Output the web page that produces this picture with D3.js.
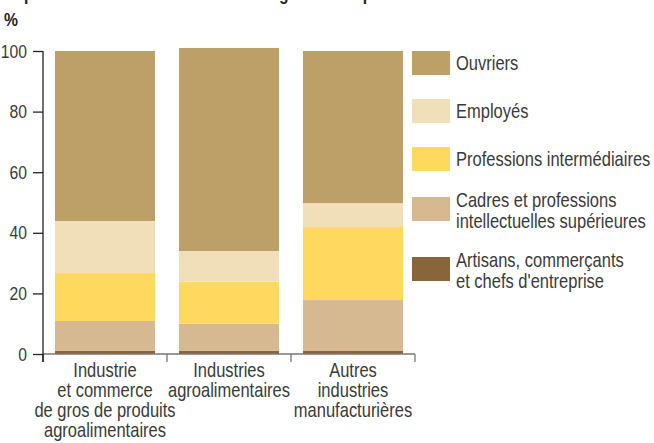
<!DOCTYPE html>
<meta charset="utf-8">
<body style="margin:0;background:#fff">
<script src="https://cdn.jsdelivr.net/npm/d3@7/dist/d3.min.js"></script>
<script>

  const width = 654,
        height = 443

  const font = '"Liberation Sans", Arial, sans-serif'
  const sx = 0.825 // horizontal squeeze, the original uses a condensed face
  const textColor = '#3a3a3a'

  // data (%)
  const categories = ['ind_commerce', 'ind_agro', 'autres']
  const categoryLabels = [
    ['Industrie', 'et commerce', 'de gros de produits', 'agroalimentaires'],
    ['Industries', 'agroalimentaires'],
    ['Autres', 'industries', 'manufacturières']
  ]
  const artisans  = [1.1, 1.1, 1.0]
  const cadres    = [9.8, 8.9, 16.8]
  const profInter = [15.8, 13.9, 24.1]
  const employes  = [17.2, 10.1, 7.9]
  const ouvriers  = [56.1, 67.0, 50.2]

  const seriesKeys = ['artisans', 'cadres', 'profInter', 'employes', 'ouvriers']
  const seriesNames = [
    ['Artisans, commerçants', "et chefs d'entreprise"],
    ['Cadres et professions', 'intellectuelles supérieures'],
    ['Professions intermédiaires'],
    ['Employés'],
    ['Ouvriers']
  ]
  const yTicks = [0, 20, 40, 60, 80, 100]

  const colors = {artisans: '#8a6539',
                  cadres: '#d6b991',
                  profInter: '#ffd95d',
                  employes: '#f1dfb9',
                  ouvriers: '#bca068'}

  const table = categories.map((c, i) => ({
    cat: c,
    artisans: artisans[i],
    cadres: cadres[i],
    profInter: profInter[i],
    employes: employes[i],
    ouvriers: ouvriers[i]
  }))

  const stacked = d3.stack().keys(seriesKeys)(table)

  const plot = {left: 43, right: 415, top: 51, bottom: 354}

  const xScale = d3.scaleBand()
    .domain(categories)
    .range([plot.left, plot.right])
    .paddingInner(24/124)
    .paddingOuter(12/124)

  const yScale = d3.scaleLinear()
    .domain([0, 100])
    .range([plot.bottom, plot.top])

  const svg = d3.select("body")
    .append("svg")
      .attr("width", width)
      .attr("height", height)
      .style("font-family", font)

  // title, cut off by the top edge in the original
  svg.append("text")
    .attr("transform", `scale(${sx},1)`)
    .attr("x", 4/sx)
    .attr("y", 0)
    .style("font-weight", "bold")
    .style("font-size", "19px")
    .style("fill", "#222")
    .text("Répartition des salariés selon la catégorie socioprofessionnelle")

  svg.append("text")
    .attr("transform", `scale(${sx},1)`)
    .attr("x", 4/sx)
    .attr("y", 26)
    .style("font-size", "19px")
    .style("font-weight", "bold")
    .style("fill", "#222")
    .text("%")

  // bars
  svg.append("g").selectAll("g")
    .data(stacked)
    .enter()
    .append("g")
      .attr("fill", d => colors[d.key])
    .selectAll("rect")
    .data(d => d)
    .enter()
    .append("rect")
      .attr("x", d => xScale(d.data.cat))
      .attr("width", xScale.bandwidth())
      .attr("y", d => yScale(d[1]))
      .attr("height", d => yScale(d[0]) - yScale(d[1]))

  // x axis
  const gx = svg.append("g")
  gx.append("line")
    .attr("x1", plot.left).attr("x2", plot.right)
    .attr("y1", yScale(0)).attr("y2", yScale(0))
    .attr("stroke", "#777").attr("stroke-width", 1.3)
  const step = xScale.step()
  gx.selectAll(".sep")
    .data(d3.range(categories.length + 1))
    .enter()
    .append("line")
      .attr("x1", i => plot.left + i*step).attr("x2", i => plot.left + i*step)
      .attr("y1", yScale(0)).attr("y2", yScale(0) + 8)
      .attr("stroke", i => i == 0 ? "#222" : "#777")
      .attr("stroke-width", 1.3)

  gx.selectAll(".catLabel")
    .data(categories)
    .enter()
    .append("text")
      .attr("class", "catLabel")
      .attr("transform", `scale(${sx},1)`)
      .attr("text-anchor", "middle")
      .style("font-size", "20px")
      .style("fill", textColor)
      .each(function(c, i) {
        d3.select(this).selectAll("tspan")
          .data(categoryLabels[i])
          .enter()
          .append("tspan")
            .attr("x", (xScale(c) + xScale.bandwidth()/2)/sx)
            .attr("y", (d, j) => 377 + j*20)
            .text(d => d)
      })

  // y axis
  const yAxis = d3.axisLeft(yScale)
    .tickValues(yTicks)
    .tickSize(10)
    .tickPadding(5)

  const gy = svg.append("g")
    .attr("transform", `translate(${plot.left}, 0)`)
    .call(yAxis)
  gy.select(".domain").remove()
  gy.selectAll(".tick line").attr("stroke", "#222").attr("stroke-width", 1.3)
  gy.selectAll(".tick text")
    .attr("transform", `scale(${sx},1)`)
    .attr("x", -16/sx)
    .style("font-family", font)
    .style("font-size", "19px")
    .style("fill", textColor)
  gy.append("line")
    .attr("x1", 0).attr("x2", 0)
    .attr("y1", plot.top).attr("y2", yScale(0) + 8)
    .attr("stroke", "#222").attr("stroke-width", 1.3)

  // legend, top item first
  const legendY = [51, 99, 147, 197, 257]
  const legendOrder = seriesKeys.slice().reverse()
  const legend = svg.append("g").selectAll("g")
    .data(legendOrder)
    .enter()
    .append("g")
      .attr("transform", (d, i) => `translate(412, ${legendY[i]})`)
  legend.append("rect")
    .attr("width", 38)
    .attr("height", 24)
    .attr("fill", d => colors[d])
  legend.append("text")
    .attr("transform", `scale(${sx},1)`)
    .style("font-size", "20px")
    .style("fill", textColor)
    .each(function(d) {
      const lines = seriesNames[seriesKeys.indexOf(d)]
      const y0 = lines.length == 1 ? 18.5 : 9.5
      d3.select(this).selectAll("tspan")
        .data(lines)
        .enter()
        .append("tspan")
          .attr("x", 44/sx)
          .attr("y", (t, j) => y0 + j*21.5)
          .text(t => t)
    })

</script>
